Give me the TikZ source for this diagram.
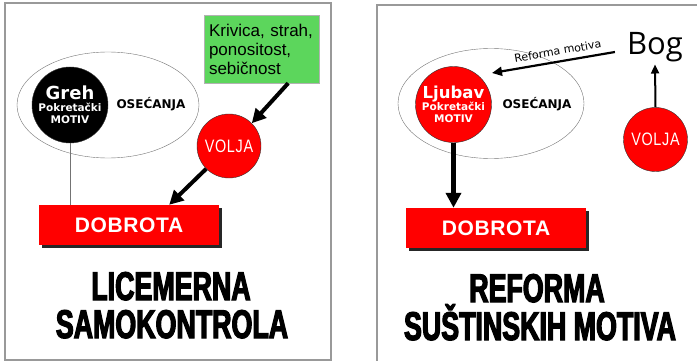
\documentclass[tikz,border=0pt]{standalone}
\usepackage{fontspec}
\setmainfont{Liberation Sans}
\newfontfamily\dejavu{DejaVu Sans}
\newfontfamily\bogfont{Open Sans}
\newfontfamily\titlefont[FakeStretch=0.67,FakeBold=3]{Liberation Sans}
\newfontfamily\voljafont[FakeStretch=0.8,LetterSpace=4]{Liberation Sans}
\newfontfamily\dobrofont[LetterSpace=3]{Liberation Sans}
\usepackage{tikz}
\usetikzlibrary{arrows.meta, positioning, shadows, calc}
\definecolor{boxRed}{RGB}{255,0,0}
\definecolor{boxGreen}{RGB}{92,214,92}
\definecolor{frameGray}{gray}{0.6}
\definecolor{lineGray}{gray}{0.45}

\begin{document}
\begin{tikzpicture}[x=1pt, y=-1pt, >=Triangle,
    motiv/.style={circle, draw=black!80, text=white, inner sep=0pt, minimum size=76pt, align=center,
        font=\dejavu\bfseries\fontsize{10.5}{12}\selectfont},
    voljacircle/.style={circle, draw=black!80, fill=boxRed, text=white, inner sep=0pt, minimum size=64pt,
        font=\voljafont\fontsize{18}{18}\selectfont},
    dobrota/.style={fill=boxRed, text=white, minimum width=180pt, minimum height=40pt, inner sep=0pt,
        font=\dobrofont\bfseries\fontsize{21}{21}\selectfont,
        drop shadow={shadow xshift=3pt, shadow yshift=-3pt, opacity=1, fill=black!85}},
    osecanja/.style={font=\dejavu\bfseries\fontsize{12}{12}\selectfont},
    bigtitle/.style={anchor=base, inner sep=0pt, font=\titlefont\bfseries\fontsize{40}{40}\selectfont},
    bigarrow/.style={line width=4pt, -{Triangle[width=14pt,length=14pt]}},
    thinarrow/.style={line width=2.2pt, -{Triangle[width=9pt,length=10pt]}}]

    \useasboundingbox (0,0) rectangle (697,361);

    % Frames
    \draw[frameGray, line width=1.2pt] (5,3) rectangle (331,360);
    \draw[frameGray, line width=1.2pt] (377,5) rectangle (720,380);

    % Left: feelings
    \draw[lineGray, thin] (108,105) ellipse (91pt and 53pt);
    \node[motiv, fill=black] (greh) at (70,105) {{\fontsize{18}{20}\selectfont Greh}\\Pokretački\\MOTIV};
    \node[osecanja] (osecanja) at (151,104) {OSEĆANJA};

    % Left: will and goodness
    \node[draw=gray!60, fill=boxGreen, text width=105pt, align=left, minimum height=68pt, inner sep=5pt,
        font=\fontsize{17}{19}\selectfont] (krivica) at (261.5,49) {Krivica, strah,\\ponositost,\\sebičnost};
    \node[voljacircle] (volja) at (229,146) {VOLJA};
    \node[dobrota] (dobrota) at (129,225) {DOBROTA};

    \draw[bigarrow] ([xshift=-31pt]krivica.south east) -- (volja.north east);
    \draw[bigarrow] (volja.south west) -- ([xshift=-50pt]dobrota.north east);
    \draw[lineGray, thin] (greh.south) -- (greh.south |- dobrota.north);

    \node[bigtitle] (titleL1) at (171,300) {LICEMERNA};
    \node[bigtitle] (titleL2) at (172,338) {SAMOKONTROLA};

    % Right: feelings
    \draw[lineGray, thin] (491,103.5) ellipse (93pt and 55pt);
    \node[motiv, fill=boxRed] (ljubav) at (453.5,104.5) {{\fontsize{16.5}{19}\selectfont Ljubav}\\Pokretački\\MOTIV};
    \node[osecanja] (osecanja2) at (537,104) {OSEĆANJA};

    % Right: God and will
    \node[inner sep=2pt, font=\bogfont\fontsize{31}{31}\selectfont] (bog) at (655,47.5) {Bog};
    \node[voljacircle] (volja2) at (655.5,139.5) {VOLJA};
    \node[dobrota] (dobrota2) at (496,228) {DOBROTA};
    \coordinate (reftip) at (492,73);

    \draw[thinarrow] ([xshift=-10pt, yshift=-4.5pt]bog.west) -- (reftip)
        node[pos=0.45, sloped, above=2pt, font=\dejavu\fontsize{11}{11}\selectfont] {Reforma motiva};
    \draw[line width=2pt, -{Triangle[width=8pt,length=9pt]}] (volja2.north) -- (bog.south);
    \draw[line width=4.5pt, -{Triangle[width=15pt,length=15pt]}] (ljubav.south) -- (ljubav.south |- dobrota2.north);

    \node[bigtitle] (titleR1) at (537,302) {REFORMA};
    \node[bigtitle] (titleR2) at (540,340) {SUŠTINSKIH MOTIVA};
\end{tikzpicture}
\end{document}
